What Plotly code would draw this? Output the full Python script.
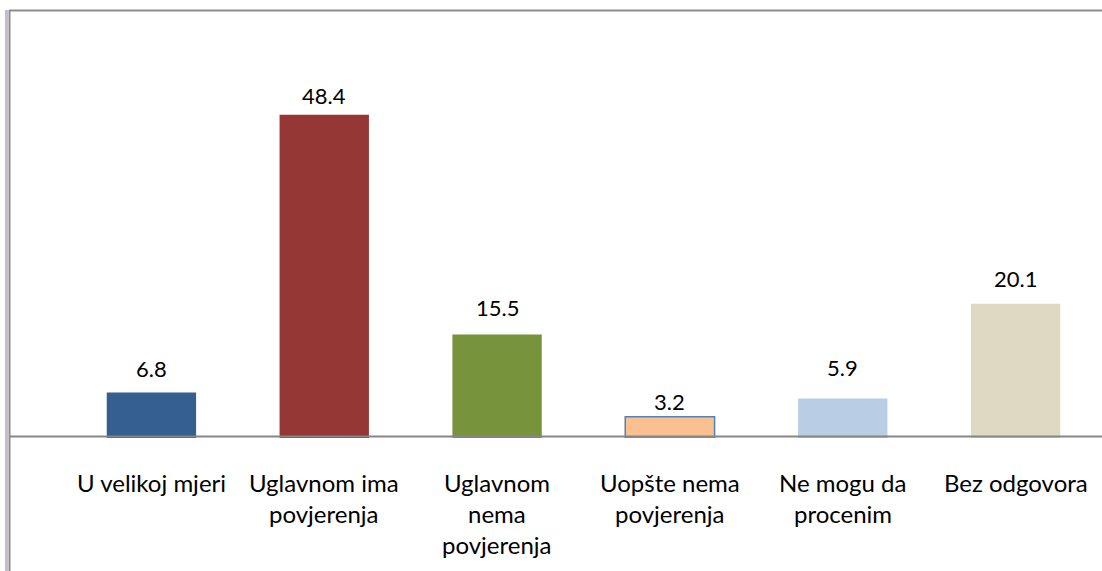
import plotly.graph_objects as go

categories = ["U velikoj mjeri", "Uglavnom ima povjerenja", "Uglavnom nema povjerenja",
              "Uopšte nema povjerenja", "Ne mogu da procenim", "Bez odgovora"]
tick_labels = ["U velikoj mjeri", "Uglavnom ima<br>povjerenja", "Uglavnom<br>nema<br>povjerenja",
               "Uopšte nema<br>povjerenja", "Ne mogu da<br>procenim", "Bez odgovora"]
values = [6.8, 48.4, 15.5, 3.2, 5.9, 20.1]

# styling
bar_colors = ["#355F8E", "#953735", "#77933C", "#FAC090", "#B9CDE5", "#DDD9C3"]
line_colors = ["#355F8E", "#953735", "#77933C", "#4F81BD", "#B9CDE5", "#DDD9C3"]
line_widths = [0, 0, 0, 1.5, 0, 0]
label_offsets = [24, 19, 27, 15, 31, 25]

W, H = 1102, 571
L, R, T, B = 65, 0, 20, 133
PH = H - T - B
FONT = "Lato"

fig = go.Figure(go.Bar(
    x=categories, y=values,
    marker=dict(color=bar_colors, line=dict(color=line_colors, width=line_widths)),
    hoverinfo="skip",
))

annotations = []
for c, v, off in zip(categories, values, label_offsets):
    annotations.append(dict(x=c, y=v, xref="x", yref="y", text=f"{v:.1f}", showarrow=False,
                            yanchor="middle", yshift=off,
                            font=dict(family=FONT, size=22, color="#000000")))
for c, lab in zip(categories, tick_labels):
    for i, line in enumerate(lab.split("<br>")):
        annotations.append(dict(x=c, y=0, xref="x", yref="y", text=line, showarrow=False,
                                yanchor="middle", yshift=-(44 + 31 * i),
                                font=dict(family=FONT, size=24, color="#000000")))

def px_x(p):
    return (p - L) / (W - L - R)

def px_y(p):
    return (H - B - p) / PH

shapes = [
    # axis line
    dict(type="line", xref="paper", yref="paper", x0=px_x(10), x1=px_x(1102),
         y0=px_y(436.5), y1=px_y(436.5), line=dict(color="#868686", width=2)),
    # left border (purple + grey)
    dict(type="line", xref="paper", yref="paper", x0=px_x(6.5), x1=px_x(6.5),
         y0=px_y(10), y1=px_y(571), line=dict(color="#C8B9D9", width=3)),
    dict(type="line", xref="paper", yref="paper", x0=px_x(9.5), x1=px_x(9.5),
         y0=px_y(10), y1=px_y(571), line=dict(color="#8C8C8C", width=2)),
    # top border
    dict(type="line", xref="paper", yref="paper", x0=px_x(9), x1=px_x(1102),
         y0=px_y(10.5), y1=px_y(10.5), line=dict(color="#8C8C8C", width=2)),
]

fig.update_layout(
    width=W, height=H,
    margin=dict(l=L, r=R, t=T, b=B, pad=0),
    paper_bgcolor="white", plot_bgcolor="white",
    bargap=0.483,
    showlegend=False,
    hovermode=False,
    xaxis=dict(showticklabels=False, showgrid=False, zeroline=False, showline=False, ticks=""),
    yaxis=dict(range=[0, PH / 6.678], visible=False, showgrid=False, zeroline=False),
    annotations=annotations,
    shapes=shapes,
)

fig.write_html("out.html", config={"displayModeBar": False, "staticPlot": True},
               post_script="document.body.style.margin='0';document.body.style.overflow='hidden';")
